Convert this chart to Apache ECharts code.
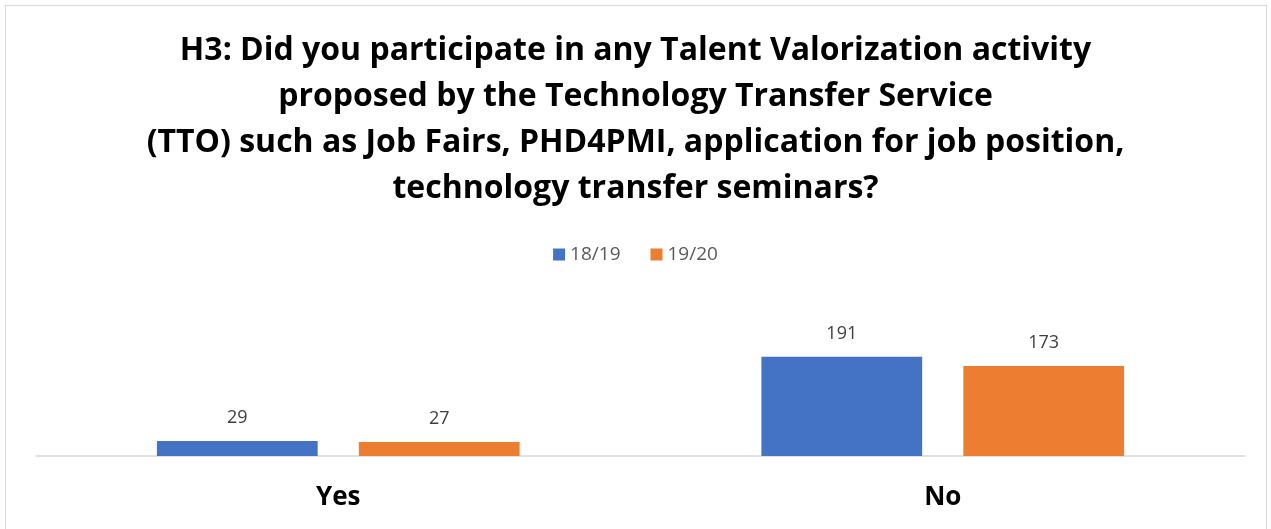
<!DOCTYPE html>
<html>
<head>
<meta charset="utf-8">
<script src="https://cdn.jsdelivr.net/npm/echarts@6/dist/echarts.min.js"></script>
<style>
html, body { margin: 0; padding: 0; background: #fff; }
#chart { width: 1271px; height: 529px; }
#frame { position: absolute; left: 5px; top: 5px; width: 1262px; height: 530px; border: 1px solid #d9d9d9; box-sizing: border-box; pointer-events: none; }
</style>
</head>
<body>
<div id="chart"></div>
<div id="frame"></div>
<script>
var categories = ['Yes', 'No'];
var seriesNames = ['18/19', '19/20'];
var values1819 = [29, 191];
var values1920 = [27, 173];
var colors = ['#4472C4', '#ED7D31'];

var chart = echarts.init(document.getElementById('chart'));

function barSeries(name, data, color) {
    return {
        name: name,
        type: 'bar',
        data: data,
        barGap: '25.6%',
        barCategoryGap: '40%',
        itemStyle: { color: color },
        label: {
            show: true,
            position: 'top',
            distance: 14,
            color: '#404040',
            fontSize: 18,
            fontFamily: 'Open Sans'
        }
    };
}

var option = {
    animation: false,
    title: {
        text: 'H3: Did you participate in any Talent Valorization activity\nproposed by the Technology Transfer Service\n(TTO) such as Job Fairs, PHD4PMI, application for job position,\ntechnology transfer seminars?',
        left: 'center',
        top: 28,
        padding: 0,
        textStyle: {
            fontFamily: 'Open Sans',
            fontWeight: 'bold',
            fontSize: 32,
            lineHeight: 46,
            color: '#000'
        }
    },
    legend: {
        top: 240,
        left: 'center',
        itemWidth: 12,
        itemHeight: 12,
        itemGap: 30,
        icon: 'rect',
        data: seriesNames,
        textStyle: { color: '#595959', fontSize: 19, fontFamily: 'Open Sans' }
    },
    grid: { left: 36, right: 26, top: 300, bottom: 73 },
    xAxis: {
        type: 'category',
        data: categories,
        axisLine: { lineStyle: { color: '#d9d9d9', width: 1.5 } },
        axisTick: { show: false },
        axisLabel: {
            margin: 29,
            color: '#000',
            fontSize: 26,
            fontWeight: 'bold',
            fontFamily: 'Open Sans'
        }
    },
    yAxis: {
        type: 'value',
        min: 0,
        max: 300,
        show: false,
        splitLine: { show: false }
    },
    series: [
        barSeries(seriesNames[0], values1819, colors[0]),
        barSeries(seriesNames[1], values1920, colors[1])
    ]
};

chart.setOption(option);
</script>
</body>
</html>
